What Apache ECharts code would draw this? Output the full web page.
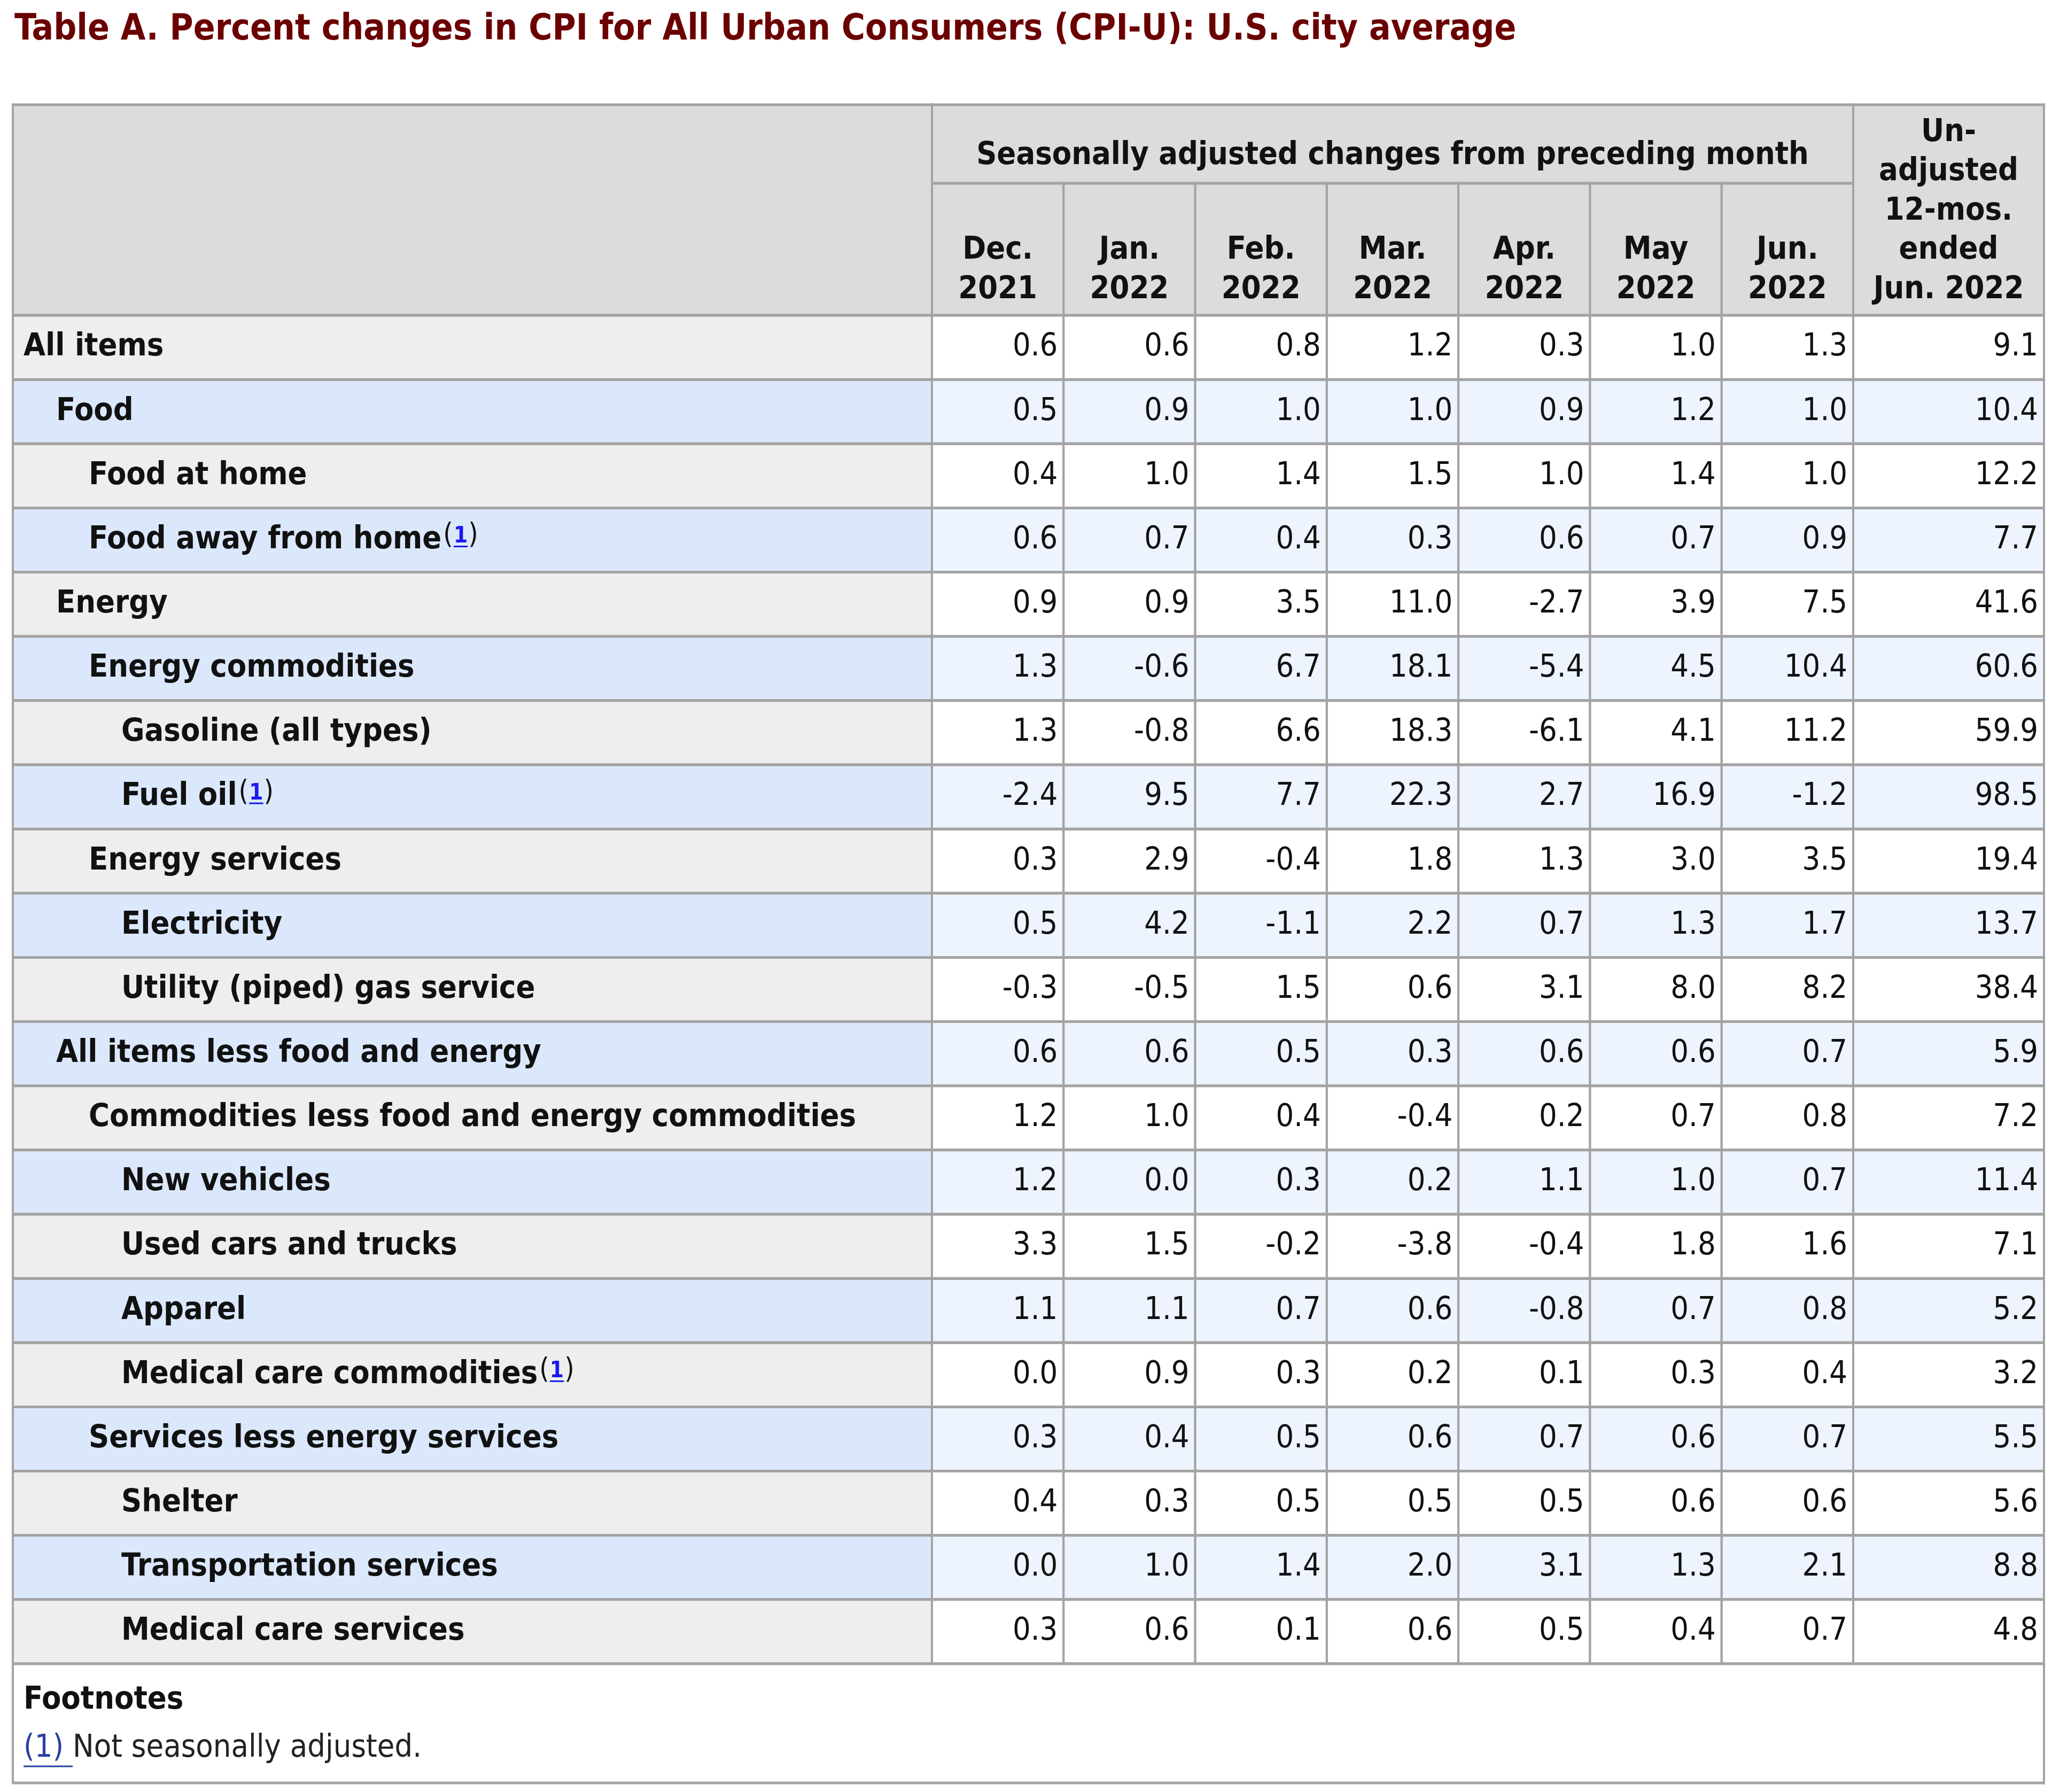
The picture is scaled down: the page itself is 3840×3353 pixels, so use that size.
<!DOCTYPE html>
<html><head><meta charset="utf-8">
<script src="https://cdn.jsdelivr.net/npm/echarts@6/dist/echarts.min.js"></script>
<style>html,body{margin:0;padding:0;background:#fff}#c{width:3840px;height:3353px}</style>
</head><body><div id="c"></div>
<script>
// ---------- data ----------
const titleText = 'Table A. Percent changes in CPI for All Urban Consumers (CPI-U): U.S. city average';
const groupHeader = 'Seasonally adjusted changes from preceding month';
const monthHeaders = ['Dec.\n2021', 'Jan.\n2022', 'Feb.\n2022', 'Mar.\n2022', 'Apr.\n2022', 'May\n2022', 'Jun.\n2022'];
const yearHeader = 'Un-\nadjusted\n12-mos.\nended\nJun. 2022';
const items = [
  'All items', 'Food', 'Food at home', 'Food away from home', 'Energy', 'Energy commodities',
  'Gasoline (all types)', 'Fuel oil', 'Energy services', 'Electricity', 'Utility (piped) gas service',
  'All items less food and energy', 'Commodities less food and energy commodities', 'New vehicles',
  'Used cars and trucks', 'Apparel', 'Medical care commodities', 'Services less energy services',
  'Shelter', 'Transportation services', 'Medical care services'
];
const levels = [0, 1, 2, 2, 1, 2, 3, 3, 2, 3, 3, 1, 2, 3, 3, 3, 3, 2, 3, 3, 3];
const footnoteRefs = [0, 0, 0, 1, 0, 0, 0, 1, 0, 0, 0, 0, 0, 0, 0, 0, 1, 0, 0, 0, 0];
const dec2021 = [0.6, 0.5, 0.4, 0.6, 0.9, 1.3, 1.3, -2.4, 0.3, 0.5, -0.3, 0.6, 1.2, 1.2, 3.3, 1.1, 0.0, 0.3, 0.4, 0.0, 0.3];
const jan2022 = [0.6, 0.9, 1.0, 0.7, 0.9, -0.6, -0.8, 9.5, 2.9, 4.2, -0.5, 0.6, 1.0, 0.0, 1.5, 1.1, 0.9, 0.4, 0.3, 1.0, 0.6];
const feb2022 = [0.8, 1.0, 1.4, 0.4, 3.5, 6.7, 6.6, 7.7, -0.4, -1.1, 1.5, 0.5, 0.4, 0.3, -0.2, 0.7, 0.3, 0.5, 0.5, 1.4, 0.1];
const mar2022 = [1.2, 1.0, 1.5, 0.3, 11.0, 18.1, 18.3, 22.3, 1.8, 2.2, 0.6, 0.3, -0.4, 0.2, -3.8, 0.6, 0.2, 0.6, 0.5, 2.0, 0.6];
const apr2022 = [0.3, 0.9, 1.0, 0.6, -2.7, -5.4, -6.1, 2.7, 1.3, 0.7, 3.1, 0.6, 0.2, 1.1, -0.4, -0.8, 0.1, 0.7, 0.5, 3.1, 0.5];
const may2022 = [1.0, 1.2, 1.4, 0.7, 3.9, 4.5, 4.1, 16.9, 3.0, 1.3, 8.0, 0.6, 0.7, 1.0, 1.8, 0.7, 0.3, 0.6, 0.6, 1.3, 0.4];
const jun2022 = [1.3, 1.0, 1.0, 0.9, 7.5, 10.4, 11.2, -1.2, 3.5, 1.7, 8.2, 0.7, 0.8, 0.7, 1.6, 0.8, 0.4, 0.7, 0.6, 2.1, 0.7];
const unadjusted12mo = [9.1, 10.4, 12.2, 7.7, 41.6, 60.6, 59.9, 98.5, 19.4, 13.7, 38.4, 5.9, 7.2, 11.4, 7.1, 5.2, 3.2, 5.5, 5.6, 8.8, 4.8];
const footnoteTitle = 'Footnotes';
const footnoteMark = '(1)';
const footnoteText = 'Not seasonally adjusted.';

// ---------- style / layout ----------
const FONT = '"DejaVu Sans Condensed", "DejaVu Sans", sans-serif';
const FS = 59;
const LINE = '#a3a3a3';
const HDR_BG = '#dcdcdc';
const LBL_BG = ['#eeeeee', '#dbe8fc'];
const VAL_BG = ['#ffffff', '#edf4fe'];
const TXT = '#111111';
const LINK = '#1a1aee';
const HW = 5, VW = 4;

const L = 24, C1 = 1744, C2 = 3468, R = 3825;
const T = 196, H1 = 343, H2 = 590, B = 3113, FB = 3336;

const mctx = document.createElement('canvas').getContext('2d');
function measure(text, size, weight) {
  mctx.font = (weight || 'normal') + ' ' + size + 'px ' + FONT;
  return mctx.measureText(text).width;
}

function frame(x0, y0, w, h, fill) {
  return [
    { type: 'rect', shape: { x: x0 + VW / 2, y: y0 + HW / 2, width: w - VW, height: h - HW }, style: { fill: fill } },
    { type: 'line', shape: { x1: x0 - VW / 2, y1: y0, x2: x0 + w + VW / 2, y2: y0 }, style: { stroke: LINE, lineWidth: HW } },
    { type: 'line', shape: { x1: x0 - VW / 2, y1: y0 + h, x2: x0 + w + VW / 2, y2: y0 + h }, style: { stroke: LINE, lineWidth: HW } },
    { type: 'line', shape: { x1: x0, y1: y0 - HW / 2, x2: x0, y2: y0 + h + HW / 2 }, style: { stroke: LINE, lineWidth: VW } },
    { type: 'line', shape: { x1: x0 + w, y1: y0 - HW / 2, x2: x0 + w, y2: y0 + h + HW / 2 }, style: { stroke: LINE, lineWidth: VW } }
  ];
}
function cellBox(api, x, y) {
  const c = api.coord([x, y]);
  const s = api.size([1, 1]);
  return { x0: c[0] - s[0] / 2, y0: c[1] - s[1] / 2, w: s[0], h: s[1], cx: c[0], cy: c[1] };
}
function txt(text, x, y, o) {
  return {
    type: 'text', z2: 10,
    style: Object.assign({
      text: text, x: x, y: y, fill: TXT, fontSize: FS, fontFamily: FONT, fontWeight: 'normal',
      align: 'left', verticalAlign: 'middle'
    }, o || {})
  };
}

// header cells
function stubHeader(params, api) {
  const b = cellBox(api, api.value(0), api.value(1));
  return { type: 'group', children: frame(b.x0, b.y0, b.w, b.h, HDR_BG) };
}
function groupHeaderCell(params, api) {
  const b = cellBox(api, api.value(0), api.value(1));
  const ch = frame(b.x0, b.y0, b.w, b.h, HDR_BG);
  ch.push(txt(groupHeader, b.cx, b.cy + 22, { align: 'center', fontWeight: 'bold' }));
  return { type: 'group', children: ch };
}
function columnHeaderCell(params, api) {
  const i = api.value(0);
  const b = cellBox(api, i, api.value(1));
  const ch = frame(b.x0, b.y0, b.w, b.h, HDR_BG);
  const label = params.seriesName === 'year' ? yearHeader : monthHeaders[i];
  ch.push(txt(label, b.cx, b.y0 + b.h - 11, { align: 'center', verticalAlign: 'bottom', fontWeight: 'bold', lineHeight: 73.5 }));
  return { type: 'group', children: ch };
}

// body cells
function labelCell(params, api) {
  const r = api.value(1);
  const b = cellBox(api, api.value(0), r);
  const ch = frame(b.x0, b.y0, b.w, b.h, LBL_BG[r % 2]);
  const tx = b.x0 + 20 + levels[r] * 61;
  ch.push(txt(items[r], tx, b.cy, { fontWeight: 'bold' }));
  if (footnoteRefs[r]) {
    const w = measure(items[r], FS, 'bold');
    const pfs = 53, dfs = 42;
    const sx = tx + w + 3;
    const sy = b.cy - 7;
    const wp = measure('(', pfs, 'normal');
    const w1 = measure('1', dfs, 'bold');
    ch.push(txt('(', sx, sy, { fontSize: pfs }));
    ch.push(txt('1', sx + wp + 1, sy + 1, { fontSize: dfs, fontWeight: 'bold', fill: LINK }));
    ch.push(txt(')', sx + wp + w1 + 2, sy, { fontSize: pfs }));
    ch.push({ type: 'line', z2: 10, shape: { x1: sx + wp + 1, y1: sy + 19, x2: sx + wp + w1 + 1, y2: sy + 19 }, style: { stroke: LINK, lineWidth: 3 } });
  }
  return { type: 'group', children: ch };
}
function valueCell(params, api) {
  const c = api.value(0), r = api.value(1), v = api.value(2);
  const b = cellBox(api, c, r);
  const ch = frame(b.x0, b.y0, b.w, b.h, VAL_BG[r % 2]);
  ch.push(txt(v.toFixed(1), b.x0 + b.w - 11, b.cy, { align: 'right' }));
  return { type: 'group', children: ch };
}
function footCell(params, api) {
  const b = cellBox(api, 0, 0);
  const ch = frame(b.x0, b.y0, b.w, b.h, '#ffffff');
  const x = b.x0 + 20;
  ch.push(txt(footnoteTitle, x, b.y0 + 69, { fontWeight: 'bold' }));
  const y2 = b.y0 + 159;
  const wm = measure(footnoteMark, FS, 'normal');
  const ws = measure(' ', FS, 'normal');
  ch.push(txt(footnoteMark, x, y2, { fill: '#2840a0' }));
  ch.push({ type: 'line', z2: 10, shape: { x1: x, y1: y2 + 33, x2: x + wm + ws, y2: y2 + 33 }, style: { stroke: '#2840a0', lineWidth: 3 } });
  ch.push(txt(footnoteText, x + wm + ws, y2, { fill: '#222' }));
  return { type: 'group', children: ch };
}

// ---------- chart ----------
const grids = [
  { left: L, top: T, width: C1 - L, height: H2 - T },        // 0 stub header
  { left: C1, top: T, width: C2 - C1, height: H1 - T },      // 1 group header
  { left: C1, top: H1, width: C2 - C1, height: H2 - H1 },    // 2 month headers
  { left: C2, top: T, width: R - C2, height: H2 - T },       // 3 12-month header
  { left: L, top: H2, width: C1 - L, height: B - H2 },       // 4 labels
  { left: C1, top: H2, width: C2 - C1, height: B - H2 },     // 5 month values
  { left: C2, top: H2, width: R - C2, height: B - H2 },      // 6 12-month values
  { left: L, top: B, width: R - L, height: FB - B }          // 7 footnotes
];
const xData = [['stub'], [groupHeader], monthHeaders, [yearHeader], ['label'], monthHeaders, [yearHeader], ['foot']];
const yData = [['h'], ['h'], ['h'], ['h'], items, items, items, ['foot']];

const monthCols = [dec2021, jan2022, feb2022, mar2022, apr2022, may2022, jun2022];
const monthData = [];
monthCols.forEach((col, j) => col.forEach((v, i) => monthData.push([j, i, v])));
const yearData = unadjusted12mo.map((v, i) => [0, i, v]);
const labelData = items.map((n, i) => [0, i]);

const option = {
  backgroundColor: '#ffffff',
  animation: false,
  title: {
    text: titleText, left: L - 2, top: 18,
    textStyle: { fontSize: 67, fontWeight: 'bold', color: '#6b0000', fontFamily: FONT }
  },
  grid: grids,
  xAxis: xData.map((d, i) => ({ type: 'category', data: d, gridIndex: i, show: false })),
  yAxis: yData.map((d, i) => ({ type: 'category', data: d, gridIndex: i, show: false, inverse: true })),
  series: [
    { type: 'custom', name: 'stub', xAxisIndex: 0, yAxisIndex: 0, data: [[0, 0]], renderItem: stubHeader },
    { type: 'custom', name: 'group', xAxisIndex: 1, yAxisIndex: 1, data: [[0, 0]], renderItem: groupHeaderCell },
    { type: 'custom', name: 'months', xAxisIndex: 2, yAxisIndex: 2, data: monthHeaders.map((m, i) => [i, 0]), renderItem: columnHeaderCell },
    { type: 'custom', name: 'year', xAxisIndex: 3, yAxisIndex: 3, data: [[0, 0]], renderItem: columnHeaderCell },
    { type: 'custom', name: 'labels', xAxisIndex: 4, yAxisIndex: 4, data: labelData, renderItem: labelCell },
    { type: 'custom', name: 'monthValues', xAxisIndex: 5, yAxisIndex: 5, data: monthData, renderItem: valueCell },
    { type: 'custom', name: 'yearValues', xAxisIndex: 6, yAxisIndex: 6, data: yearData, renderItem: valueCell },
    { type: 'custom', name: 'foot', xAxisIndex: 7, yAxisIndex: 7, data: [[0, 0]], renderItem: footCell }
  ]
};
const chart = echarts.init(document.getElementById('c'), null, { renderer: 'canvas' });
chart.setOption(option);
</script>
</body></html>
